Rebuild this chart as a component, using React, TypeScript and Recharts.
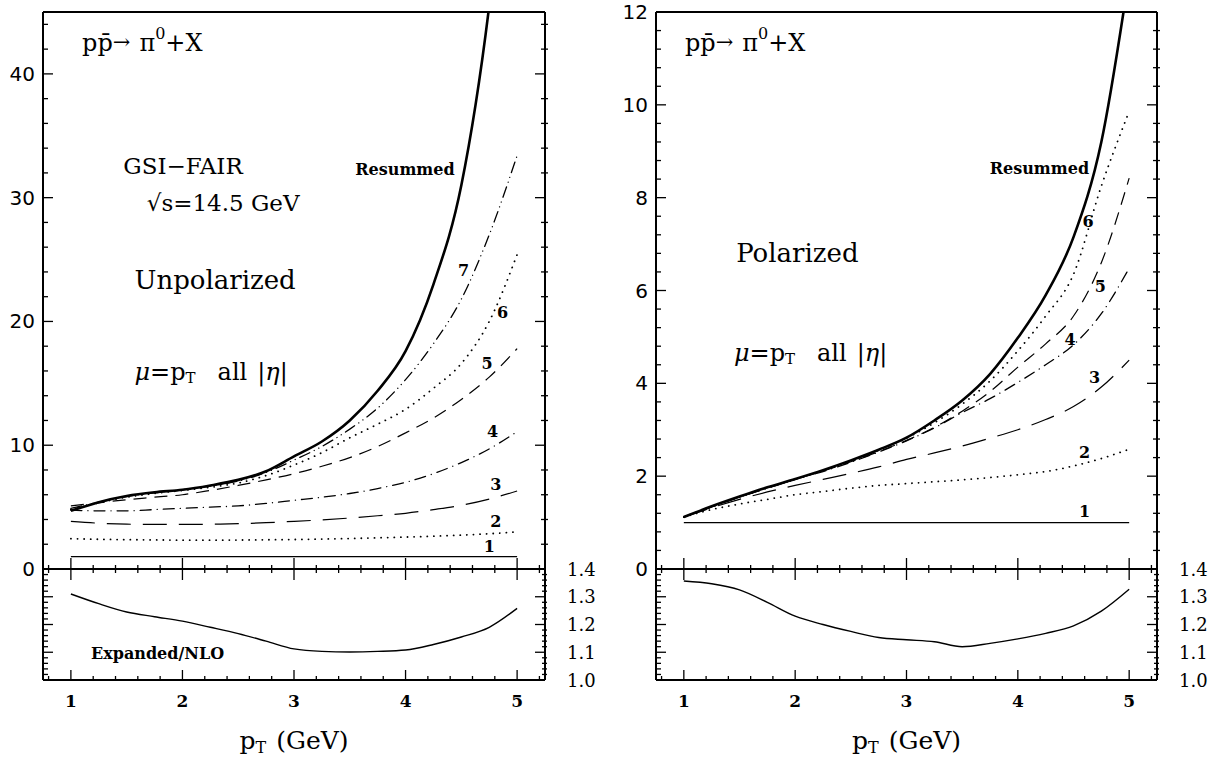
import type { ReactNode } from 'react';
import { LineChart, Line, XAxis, YAxis, ReferenceDot, ReferenceLine } from 'recharts';

const SERIF = '"DejaVu Serif", "Liberation Serif", serif';
const SANS = '"DejaVu Sans", sans-serif';

// pT grid (GeV)
const PT = [1, 1.25, 1.5, 1.75, 2, 2.25, 2.5, 2.75, 3, 3.25, 3.5, 3.75, 4, 4.25, 4.5, 4.75, 5];

// Unpolarized: resummed and expansions truncated at order 1..7
const UNP_RESUMMED = [4.7, 5.4, 5.9, 6.2, 6.4, 6.75, 7.2, 7.9, 9.1, 10.3, 12.0, 14.4, 17.6, 23.0, 31.0, 45.5, 68];
const UNP_7 = [4.9, 5.4, 5.85, 6.15, 6.4, 6.7, 7.1, 7.8, 8.8, 9.9, 11.3, 13.0, 15.3, 18.2, 21.8, 27.0, 33.4];
const UNP_6 = [4.8, 5.35, 5.8, 6.1, 6.35, 6.6, 6.95, 7.55, 8.4, 9.4, 10.6, 11.7, 12.9, 14.6, 16.6, 20.0, 25.4];
const UNP_5 = [5.1, 5.35, 5.6, 5.8, 6.0, 6.35, 6.75, 7.2, 7.7, 8.3, 9.0, 9.9, 11.0, 12.2, 13.7, 15.5, 17.8];
const UNP_4 = [4.75, 4.7, 4.7, 4.8, 4.9, 5.0, 5.1, 5.3, 5.55, 5.8, 6.1, 6.5, 7.0, 7.7, 8.6, 9.7, 11.1];
const UNP_3 = [3.85, 3.7, 3.62, 3.6, 3.6, 3.62, 3.66, 3.74, 3.85, 3.97, 4.12, 4.3, 4.5, 4.8, 5.15, 5.65, 6.3];
const UNP_2 = [2.45, 2.4, 2.37, 2.35, 2.33, 2.33, 2.34, 2.36, 2.38, 2.42, 2.46, 2.52, 2.58, 2.65, 2.74, 2.85, 3.0];
const UNP_1 = [1, 1, 1, 1, 1, 1, 1, 1, 1, 1, 1, 1, 1, 1, 1, 1, 1];
const UNP_RATIO = [1.31, 1.275, 1.245, 1.228, 1.212, 1.19, 1.167, 1.14, 1.112, 1.103, 1.101, 1.103, 1.108, 1.128, 1.155, 1.19, 1.258];

// Polarized
const POL_RESUMMED = [1.12, 1.35, 1.56, 1.76, 1.94, 2.13, 2.34, 2.57, 2.83, 3.2, 3.63, 4.2, 4.98, 5.9, 7.15, 9.2, 12.8];
const POL_6 = [1.12, 1.34, 1.55, 1.75, 1.93, 2.12, 2.33, 2.56, 2.82, 3.15, 3.55, 4.05, 4.7, 5.45, 6.35, 8.25, 9.86];
const POL_5 = [1.12, 1.34, 1.55, 1.75, 1.93, 2.11, 2.31, 2.53, 2.77, 3.05, 3.4, 3.82, 4.35, 4.85, 5.45, 6.6, 8.42];
const POL_4 = [1.12, 1.34, 1.55, 1.74, 1.93, 2.1, 2.3, 2.52, 2.76, 3.04, 3.37, 3.67, 4.02, 4.4, 4.83, 5.5, 6.48];
const POL_3 = [1.12, 1.32, 1.5, 1.66, 1.8, 1.93, 2.06, 2.2, 2.36, 2.5, 2.65, 2.82, 3.0, 3.22, 3.5, 3.92, 4.5];
const POL_2 = [1.12, 1.28, 1.4, 1.5, 1.6, 1.67, 1.74, 1.8, 1.84, 1.88, 1.92, 1.97, 2.03, 2.1, 2.22, 2.38, 2.58];
const POL_1 = [1, 1, 1, 1, 1, 1, 1, 1, 1, 1, 1, 1, 1, 1, 1, 1, 1];
const POL_RATIO = [1.357, 1.347, 1.325, 1.28, 1.23, 1.2, 1.175, 1.153, 1.145, 1.138, 1.12, 1.132, 1.148, 1.168, 1.195, 1.248, 1.327];

// axes
const X_MAJOR = [1, 2, 3, 4, 5];
const X_LABELS = ['1', '2', '3', '4', '5'];
const UNP_Y_MAJOR = [0, 10, 20, 30, 40];
const POL_Y_MAJOR = [0, 2, 4, 6, 8, 10, 12];
const RATIO_MAJOR = [1.0, 1.1, 1.2, 1.3, 1.4];
const RATIO_LABELS = ['1.0', '1.1', '1.2', '1.3', '1.4'];

function steps(from: number, to: number, step: number) {
  const out: number[] = [];
  for (let i = 0; from + i * step <= to + 1e-9; i++) out.push(+(from + i * step).toFixed(4));
  return out;
}

const X_TICKS = steps(0.8, 5.2, 0.2);
const UNP_Y_TICKS = steps(0, 44, 2);
const POL_Y_TICKS = steps(0, 12, 0.4);
const RATIO_TICKS = steps(1.0, 1.4, 0.02);

const isMajor = (v: number, majors: number[]) => majors.some(m => Math.abs(m - v) < 1e-6);

type LineStyle = { dash?: string; w: number; round?: boolean };
const STYLES: Record<string, LineStyle> = {
  r: { w: 2.6 },
  c1: { w: 1.2 },
  c2: { dash: '0.1 6.5', w: 1.8, round: true },
  c3: { dash: '24 12', w: 1.2 },
  c4: { dash: '11 6 0.1 6', w: 1.3, round: true },
  c5: { dash: '13 8', w: 1.2 },
  c6: { dash: '0.1 6.5', w: 1.8, round: true },
  c7: { dash: '11 5 0.1 5 0.1 5', w: 1.3, round: true },
};

type Note = { x: number; y: number; content: ReactNode; size: number; bold?: boolean; anchor?: 'start' | 'middle' | 'end' };

const reaction = (
  <>
    <tspan>{'pp\u0304'}</tspan>
    <tspan fontSize={21} dy={-1}>{'\u2192'}</tspan>
    <tspan dx={9} dy={1}>π</tspan>
    <tspan fontSize={16} dy={-10}>0</tspan>
    <tspan dy={10}>+X</tspan>
  </>
);

const scale = (
  <>
    <tspan fontStyle="italic">μ</tspan>
    <tspan>=p</tspan>
    <tspan fontSize={15} dy={6}>T</tspan>
    <tspan dx={22} dy={-6}>all</tspan>
    <tspan dx={10}>|</tspan>
    <tspan fontStyle="italic">η</tspan>
    <tspan>|</tspan>
  </>
);

const UNP_NOTES: Note[] = [
  { x: 1.1, y: 42.5, content: reaction, size: 24 },
  { x: 1.47, y: 32.55, content: 'GSI\u2212FAIR', size: 23 },
  { x: 1.68, y: 29.56, content: '\u221As=14.5 GeV', size: 23 },
  { x: 1.57, y: 23.34, content: 'Unpolarized', size: 26 },
  { x: 1.57, y: 15.9, content: scale, size: 24 },
  { x: 4.44, y: 32.3, content: 'Resummed', size: 16, bold: true, anchor: 'end' },
  { x: 4.52, y: 24.15, content: '7', size: 16, bold: true, anchor: 'middle' },
  { x: 4.87, y: 20.7, content: '6', size: 16, bold: true, anchor: 'middle' },
  { x: 4.73, y: 16.6, content: '5', size: 16, bold: true, anchor: 'middle' },
  { x: 4.78, y: 11.1, content: '4', size: 16, bold: true, anchor: 'middle' },
  { x: 4.81, y: 6.8, content: '3', size: 16, bold: true, anchor: 'middle' },
  { x: 4.81, y: 3.8, content: '2', size: 16, bold: true, anchor: 'middle' },
  { x: 4.75, y: 1.78, content: '1', size: 16, bold: true, anchor: 'middle' },
];

const POL_NOTES: Note[] = [
  { x: 1.01, y: 11.34, content: reaction, size: 24 },
  { x: 1.47, y: 6.81, content: 'Polarized', size: 26 },
  { x: 1.45, y: 4.66, content: scale, size: 24 },
  { x: 4.64, y: 8.62, content: 'Resummed', size: 16, bold: true, anchor: 'end' },
  { x: 4.63, y: 7.48, content: '6', size: 16, bold: true, anchor: 'middle' },
  { x: 4.74, y: 6.08, content: '5', size: 16, bold: true, anchor: 'middle' },
  { x: 4.47, y: 4.94, content: '4', size: 16, bold: true, anchor: 'middle' },
  { x: 4.69, y: 4.12, content: '3', size: 16, bold: true, anchor: 'middle' },
  { x: 4.6, y: 2.5, content: '2', size: 16, bold: true, anchor: 'middle' },
  { x: 4.6, y: 1.23, content: '1', size: 16, bold: true, anchor: 'middle' },
];

const UNP_RATIO_NOTES: Note[] = [{ x: 1.18, y: 1.094, content: 'Expanded/NLO', size: 16, bold: true }];

function renderNote(n: Note, key: string) {
  return (
    <ReferenceDot
      key={key}
      yAxisId="l"
      x={n.x}
      y={n.y}
      r={0}
      fill="none"
      stroke="none"
      label={(p: any) => {
        const vb = p.viewBox ?? p;
        return (
          <text
            x={vb.x + (vb.width ?? 0) / 2}
            y={vb.y + (vb.height ?? 0) / 2}
            dominantBaseline="central"
            textAnchor={n.anchor ?? 'start'}
            fontFamily={SERIF}
            fontSize={n.size}
            fontWeight={n.bold ? 'bold' : 'normal'}
            fill="#000"
          >
            {n.content}
          </text>
        );
      }}
    />
  );
}

type TickOpts = {
  edge: number; dir: 1 | -1; major: number[]; inMajor: number; inMinor: number; outMinor: number;
  label?: (v: number) => string | null; labelAt?: number; anchor?: 'start' | 'end';
  font?: string; size?: number;
};

function yTick(o: TickOpts) {
  return (props: any) => {
    const v = props.payload.value;
    const y = props.y;
    const big = isMajor(v, o.major);
    const inLen = big ? o.inMajor : o.inMinor;
    const outLen = big ? 0 : o.outMinor;
    const txt = big && o.label ? o.label(v) : null;
    return (
      <g>
        <line x1={o.edge - o.dir * outLen} x2={o.edge + o.dir * inLen} y1={y} y2={y} stroke="#000" strokeWidth={1.3} />
        {txt != null && (
          <text x={o.labelAt} y={y} textAnchor={o.anchor} dominantBaseline="central" fontFamily={o.font} fontSize={o.size} fill="#000">
            {txt}
          </text>
        )}
      </g>
    );
  };
}

function xTick(axisY: number, up: [number, number], down: [number, number], labels: boolean) {
  return (props: any) => {
    const v = props.payload.value;
    const x = props.x;
    const big = isMajor(v, X_MAJOR);
    const u = big ? up[0] : up[1];
    const d = big ? down[0] : down[1];
    const idx = X_MAJOR.findIndex(m => Math.abs(m - v) < 1e-6);
    return (
      <g>
        <line x1={x} x2={x} y1={axisY - u} y2={axisY + d} stroke="#000" strokeWidth={1.3} />
        {labels && big && (
          <text x={x} y={axisY + 21} textAnchor="middle" dominantBaseline="central" fontFamily={SERIF} fontWeight="bold" fontSize={17} fill="#000">
            {X_LABELS[idx]}
          </text>
        )}
      </g>
    );
  };
}

type Series = { key: string; values: number[] };

type PanelProps = {
  left: number; width: number; yAxisW: number; rightM: number;
  yMax: number; yTicks: number[]; yMajor: number[];
  series: Series[]; ratio: number[]; notes: Note[]; ratioNotes: Note[];
};

const MAIN_TOP = 12;
const AXIS_Y = 569;
const RATIO_BOTTOM = 680;

function Panel({ left, width, yAxisW, rightM, yMax, yTicks, yMajor, series, ratio, notes, ratioNotes }: PanelProps) {
  const rows = PT.map((x, i) => {
    const row: Record<string, number> = { x };
    series.forEach(s => { row[s.key] = s.values[i]; });
    return row;
  });
  const ratioRows = PT.map((x, i) => ({ x, q: ratio[i] }));
  const fx0 = yAxisW;
  const fx1 = width - rightM;
  const frame = { stroke: '#000', strokeWidth: 2 };

  return (
    <div style={{ position: 'absolute', left, top: 0, width, height: 760 }}>
      <div style={{ position: 'absolute', left: 0, top: 0 }}>
        <LineChart width={width} height={600} data={rows} margin={{ top: MAIN_TOP, right: rightM - 1, bottom: 600 - AXIS_Y - 1, left: 0 }}>
          <XAxis type="number" dataKey="x" domain={[0.75, 5.25]} allowDataOverflow ticks={X_TICKS} interval={0}
            height={1} tickLine={false} axisLine={frame} tick={xTick(AXIS_Y, [11, 4], [11, 4], false)} />
          <YAxis yAxisId="l" type="number" domain={[0, yMax]} allowDataOverflow ticks={yTicks} interval={0} width={yAxisW}
            tickLine={false} axisLine={frame}
            tick={yTick({ edge: fx0, dir: 1, major: yMajor, inMajor: 10, inMinor: 5, outMinor: 0,
              label: v => String(v), labelAt: fx0 - 8, anchor: 'end', font: SANS, size: 20 })} />
          <YAxis yAxisId="r" orientation="right" type="number" domain={[0, yMax]} allowDataOverflow ticks={yTicks} interval={0} width={1}
            tickLine={false} axisLine={frame}
            tick={yTick({ edge: fx1, dir: -1, major: yMajor, inMajor: 10, inMinor: 4, outMinor: 3 })} />
          <ReferenceLine yAxisId="l" y={yMax} stroke="#000" strokeWidth={2} />
          {series.map(s => {
            const st = STYLES[s.key];
            return (
              <Line key={s.key} yAxisId="l" type="monotone" dataKey={s.key} stroke="#000" strokeWidth={st.w}
                strokeDasharray={st.dash} strokeLinecap={st.round ? 'round' : 'butt'} dot={false} activeDot={false}
                isAnimationActive={false} />
            );
          })}
          {notes.map((n, i) => renderNote(n, `n${i}`))}
        </LineChart>
      </div>
      <div style={{ position: 'absolute', left: 0, top: 0 }}>
        <LineChart width={width} height={760} data={ratioRows} margin={{ top: AXIS_Y, right: rightM - 1, bottom: 0, left: 0 }}>
          <XAxis type="number" dataKey="x" domain={[0.75, 5.25]} allowDataOverflow ticks={X_TICKS} interval={0}
            height={760 - RATIO_BOTTOM} tickLine={false} axisLine={frame} tick={xTick(RATIO_BOTTOM, [10, 4], [0, 0], true)}
            label={(p: any) => {
              const vb = p.viewBox ?? p;
              return (
                <text x={vb.x + vb.width / 2} y={vb.y + 60} textAnchor="middle" dominantBaseline="central" fontFamily={SERIF} fontSize={25} fill="#000">
                  <tspan>p</tspan>
                  <tspan fontSize={16} dy={7}>T</tspan>
                  <tspan dx={10} dy={-7}>(GeV)</tspan>
                </text>
              );
            }} />
          <YAxis yAxisId="l" type="number" domain={[1.0, 1.4]} allowDataOverflow ticks={RATIO_TICKS} interval={0} width={yAxisW}
            tickLine={false} axisLine={frame}
            tick={yTick({ edge: fx0, dir: 1, major: RATIO_MAJOR, inMajor: 10, inMinor: 5, outMinor: 0 })} />
          <YAxis yAxisId="r" orientation="right" type="number" domain={[1.0, 1.4]} allowDataOverflow ticks={RATIO_TICKS} interval={0} width={1}
            tickLine={false} axisLine={frame}
            tick={yTick({ edge: fx1, dir: -1, major: RATIO_MAJOR, inMajor: 10, inMinor: 3, outMinor: 2,
              label: v => RATIO_LABELS[RATIO_MAJOR.findIndex(m => Math.abs(m - v) < 1e-6)],
              labelAt: fx1 + 22, anchor: 'start', font: SERIF, size: 18 })} />
          <Line yAxisId="l" type="monotone" dataKey="q" stroke="#000" strokeWidth={1.4} dot={false} activeDot={false} isAnimationActive={false} />
          {ratioNotes.map((n, i) => renderNote(n, `r${i}`))}
        </LineChart>
      </div>
    </div>
  );
}

export default function App() {
  const unpSeries: Series[] = [
    { key: 'c1', values: UNP_1 }, { key: 'c2', values: UNP_2 }, { key: 'c3', values: UNP_3 },
    { key: 'c4', values: UNP_4 }, { key: 'c5', values: UNP_5 }, { key: 'c6', values: UNP_6 },
    { key: 'c7', values: UNP_7 }, { key: 'r', values: UNP_RESUMMED },
  ];
  const polSeries: Series[] = [
    { key: 'c1', values: POL_1 }, { key: 'c2', values: POL_2 }, { key: 'c3', values: POL_3 },
    { key: 'c4', values: POL_4 }, { key: 'c5', values: POL_5 }, { key: 'c6', values: POL_6 },
    { key: 'r', values: POL_RESUMMED },
  ];
  return (
    <div style={{ position: 'absolute', left: 0, top: 0, width: 1222, height: 760, background: '#fff' }}>
      <Panel left={0} width={600} yAxisW={43} rightM={55} yMax={45} yTicks={UNP_Y_TICKS} yMajor={UNP_Y_MAJOR}
        series={unpSeries} ratio={UNP_RATIO} notes={UNP_NOTES} ratioNotes={UNP_RATIO_NOTES} />
      <Panel left={600} width={622} yAxisW={56} rightM={65} yMax={12} yTicks={POL_Y_TICKS} yMajor={POL_Y_MAJOR}
        series={polSeries} ratio={POL_RATIO} notes={POL_NOTES} ratioNotes={[]} />
    </div>
  );
}
